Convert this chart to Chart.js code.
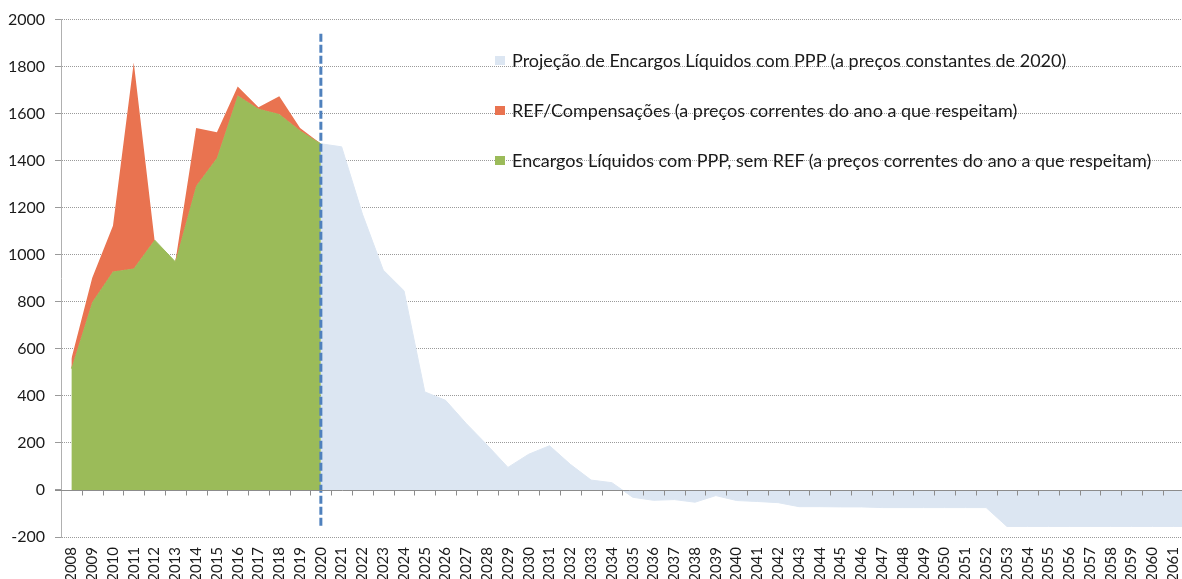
<!DOCTYPE html>
<html>
<head>
<meta charset="utf-8">
<script src="https://cdn.jsdelivr.net/npm/chart.js@4.4.1/dist/chart.umd.min.js"></script>
<style>
    html, body { margin: 0; padding: 0; background: #fff; overflow: hidden; width: 1182px; height: 579px; }
    #wrap { position: absolute; left: 0; top: 0; width: 1222px; height: 579px; }
    #legenda { position: absolute; left: 495px; top: 48px; font-family: Lato, "Open Sans", sans-serif; font-size: 18px; color: #1a1a1a; }
    .item { display: flex; align-items: center; height: 24px; margin-bottom: 26px; white-space: nowrap; }
    .caixa { display: inline-block; width: 10px; height: 9px; margin-right: 7px; }
</style>
</head>
<body>
<div id="wrap">
    <canvas id="grafico" width="1222" height="579"></canvas>
</div>
<div id="legenda"></div>

<script>
// anos 2008 a 2062
const anos = [];
for (let a = 2008; a <= 2062; a++) anos.push(String(a));

// Encargos Líquidos com PPP, sem REF (2008-2020)
const encargos = [516, 798, 929, 942, 1063, 970, 1292, 1412, 1677, 1621, 1599, 1528, 1472];
// REF/Compensações (por cima dos encargos)
const ref = [42, 103, 194, 876, 0, 0, 247, 109, 39, 6, 75, 11, 0];
// Projeção (2020 em diante)
const projecao = [1472, 1459, 1173, 935, 847, 417, 381, 282, 191, 96,
    152, 188, 109, 42, 31, -31, -44, -41, -52, -24,
    -45, -49, -54, -71, -71, -72, -72, -75, -75, -75,
    -75, -75, -75, -155, -155, -155, -155, -155, -155, -155,
    -155, -155, -155];
const yTicks = [-200, 0, 200, 400, 600, 800, 1000, 1200, 1400, 1600, 1800, 2000];

const nomes = [
    'Projeção de Encargos Líquidos com PPP (a preços constantes de 2020)',
    'REF/Compensações (a preços correntes do ano a que respeitam)',
    'Encargos Líquidos com PPP, sem REF (a preços correntes do ano a que respeitam)'
];
const cores = ['#dce6f2', '#e97350', '#9bbb59'];

const vazio = anos.length - projecao.length; // anos antes de 2020
const serieProjecao = Array(vazio).fill(null).concat(projecao);
const serieEncargos = encargos.concat(Array(anos.length - encargos.length).fill(null));
const serieTotal = encargos.map((v, i) => v + ref[i]).concat(Array(anos.length - encargos.length).fill(null));

// eixo do zero com pequenos tracos
const eixoZero = {
    id: 'eixoZero',
    afterDatasetsDraw(chart) {
        const { ctx, scales: { x, y }, chartArea } = chart;
        const y0 = Math.round(y.getPixelForValue(0)) + 0.5;
        const passo = x.getPixelForValue(1) - x.getPixelForValue(0);
        ctx.save();
        ctx.strokeStyle = '#8c8c8c';
        ctx.lineWidth = 1;
        ctx.beginPath();
        ctx.moveTo(chartArea.left - 6, y0);
        ctx.lineTo(chartArea.right, y0);
        for (let i = 0; i < anos.length; i++) {
            const px = Math.round(x.getPixelForValue(i) + passo / 2) + 0.5;
            ctx.moveTo(px, y0);
            ctx.lineTo(px, y0 + 5);
        }
        ctx.stroke();
        ctx.restore();
    }
};

const fonte = { family: 'Lato, "Open Sans", sans-serif', size: 16 };

new Chart(document.getElementById('grafico'), {
    type: 'line',
    data: {
        labels: anos,
        datasets: [
            {
                label: 'linha2020',
                data: [{ x: '2020', y: 1940 }, { x: '2020', y: -160 }],
                borderColor: '#4f81bd',
                borderWidth: 3,
                borderDash: [8, 3],
                pointRadius: 0,
                fill: false
            },
            {
                label: nomes[0],
                data: serieProjecao,
                backgroundColor: cores[0],
                borderColor: cores[0],
                borderWidth: 1,
                pointRadius: 0,
                tension: 0,
                fill: 'origin'
            },
            {
                label: nomes[1],
                data: serieTotal,
                backgroundColor: cores[1],
                borderColor: 'rgba(0,0,0,0)',
                borderWidth: 0,
                pointRadius: 0,
                tension: 0,
                fill: '+1'
            },
            {
                label: nomes[2],
                data: serieEncargos,
                backgroundColor: cores[2],
                borderColor: cores[2],
                borderWidth: 1,
                pointRadius: 0,
                tension: 0,
                fill: 'origin'
            }
        ]
    },
    options: {
        responsive: false,
        animation: false,
        devicePixelRatio: 1,
        layout: { padding: { top: 18, right: 0, bottom: 0, left: 0 } },
        plugins: {
            legend: { display: false },
            tooltip: { enabled: false }
        },
        scales: {
            x: {
                offset: true,
                grid: { display: false, drawTicks: false },
                border: { display: false },
                ticks: {
                    autoSkip: false,
                    minRotation: 90,
                    maxRotation: 90,
                    padding: 10,
                    color: '#1a1a1a',
                    font: { family: fonte.family, size: 15 }
                },
                afterFit: (scale) => { scale.height = 42; }
            },
            y: {
                min: -200,
                max: 2000,
                afterBuildTicks: (scale) => { scale.ticks = yTicks.map(v => ({ value: v })); },
                grid: {
                    color: (c) => c.tick && c.tick.value === 0 ? 'rgba(0,0,0,0)' : '#9a9a9a',
                    lineWidth: 1,
                    tickLength: 6,
                    tickColor: '#9a9a9a'
                },
                border: { display: true, color: '#b0b0b0', width: 1, dash: [1, 1] },
                ticks: {
                    padding: 10,
                    color: '#1a1a1a',
                    font: fonte,
                    callback: (v) => String(v)
                },
                afterFit: (scale) => { scale.width = 61; }
            }
        }
    },
    plugins: [eixoZero]
});

// legenda
const legenda = document.getElementById('legenda');
nomes.forEach((n, i) => {
    const d = document.createElement('div');
    d.className = 'item';
    d.innerHTML = '<span class="caixa" style="background:' + cores[i] + '"></span>' + n;
    legenda.appendChild(d);
});
</script>
</body>
</html>
